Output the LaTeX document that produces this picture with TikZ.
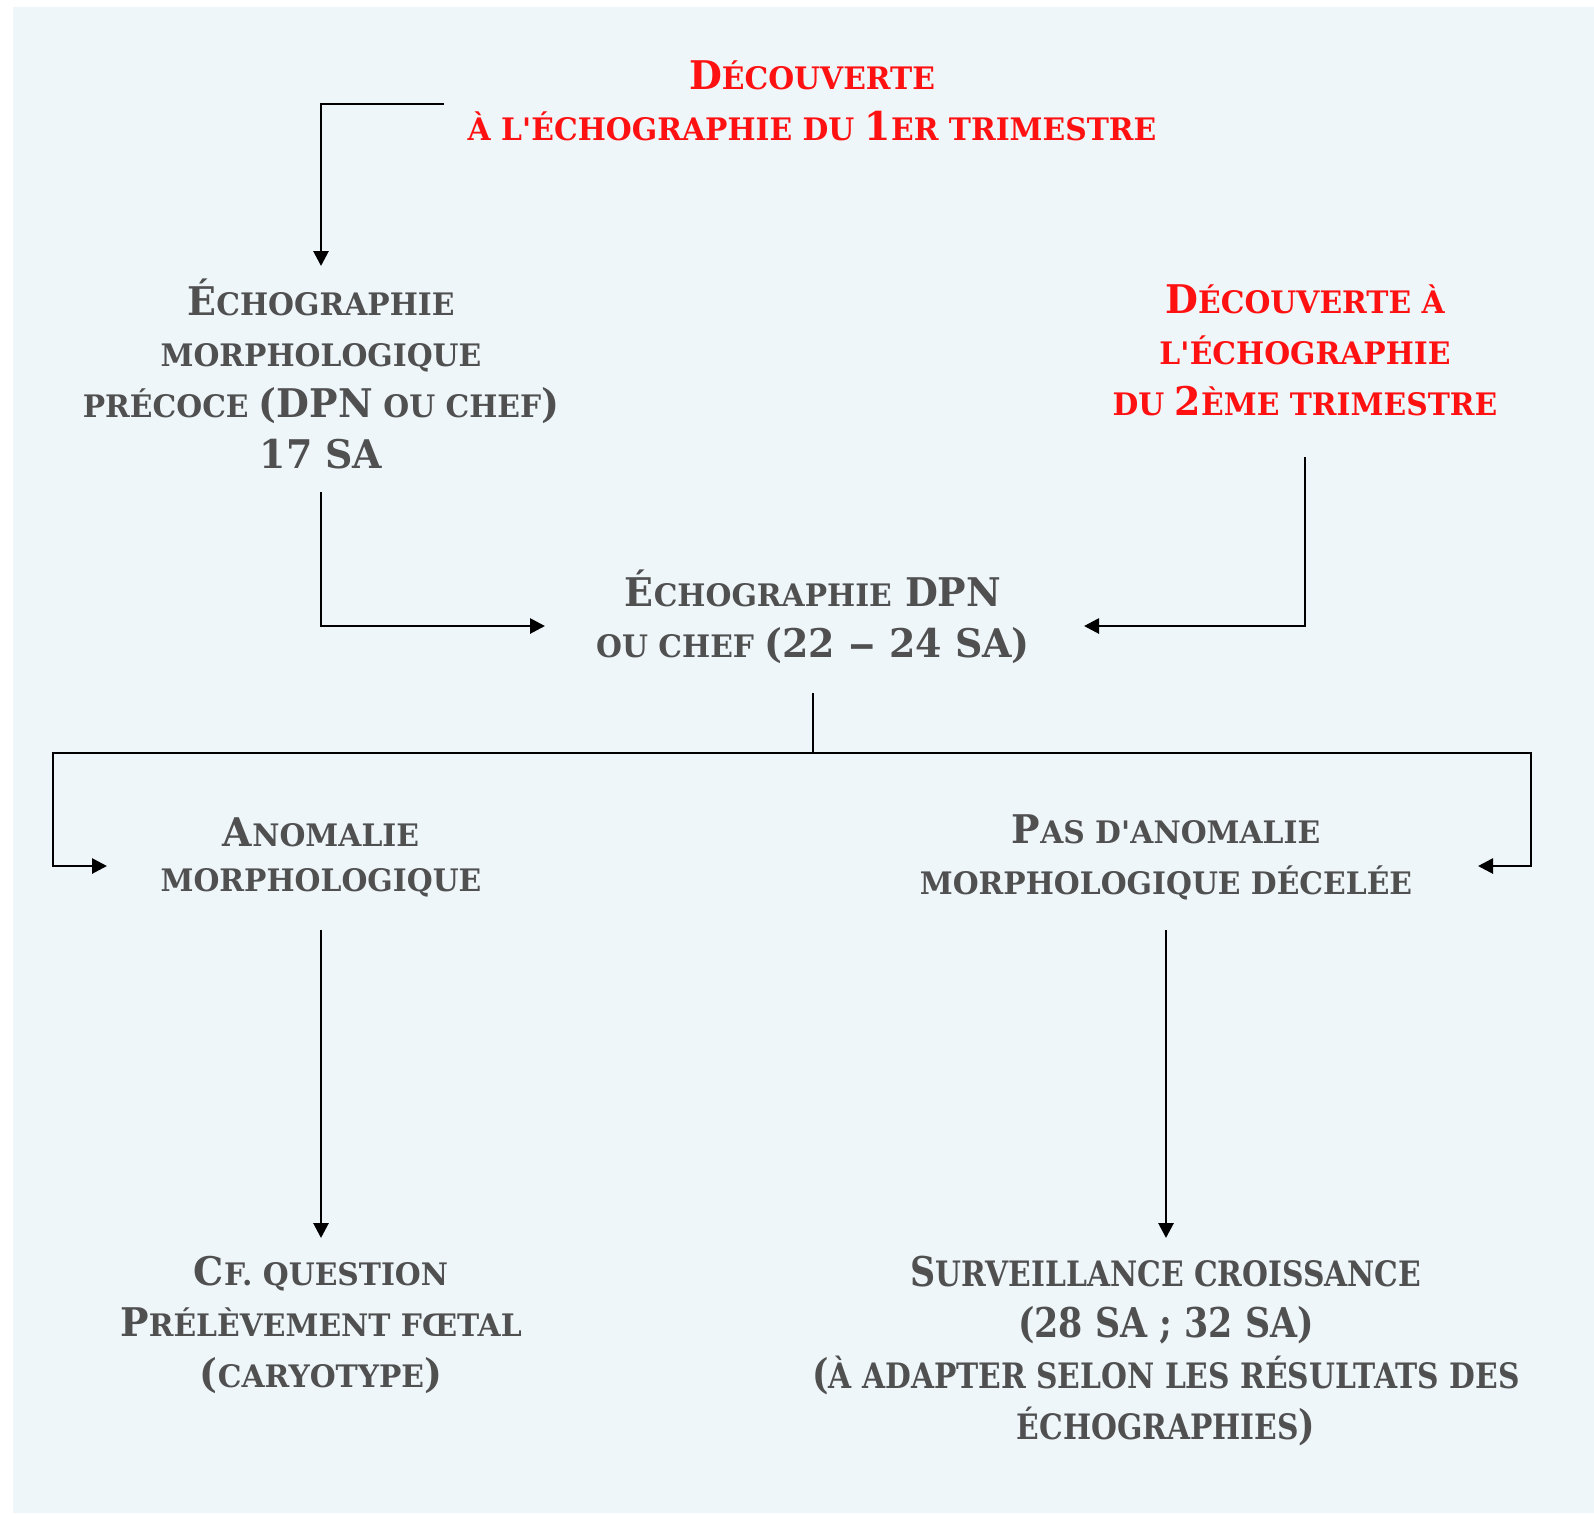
\documentclass[tikz,border=0pt]{standalone}
\usepackage{fontspec}
\usepackage{graphicx}
\setmainfont{DejaVu Serif}[BoldFont=* Bold, FakeStretch=0.96]
\newfontfamily\condfont{DejaVu Serif}[FakeStretch=0.85, BoldFont=* Bold]
\usetikzlibrary{arrows.meta,calc}
\definecolor{bgc}{HTML}{EEF6FA}
\definecolor{txt}{HTML}{505050}
\definecolor{redc}{HTML}{FF1111}
\newcommand\myS[1]{{\fontsize{31}{\baselineskip}\selectfont #1}}
\newcommand\myC[1]{{\fontsize{35}{\baselineskip}\selectfont #1}}
\tikzset{
  lbl/.style={align=center, inner sep=0pt, text=txt, font=\fontsize{39.5}{51}\selectfont\bfseries},
  redlbl/.style={lbl, text=redc},
  ln/.style={line width=2.8pt, draw=black},
  arr/.style={-{Triangle[length=15pt,width=15pt]}}
}
\begin{document}
\begin{tikzpicture}[x=1pt,y=-1pt]
\useasboundingbox (0,0) rectangle (1594,1513);
\fill[bgc] (13,7) rectangle (1594,1513);

\node[redlbl] (top) at (812,101) {D\myS{ÉCOUVERTE}\\\myS{À L\textquotesingle ÉCHOGRAPHIE DU }1\myS{ER TRIMESTRE}};
\node[lbl] (left) at (321,374) {É\myS{CHOGRAPHIE}\\\myS{MORPHOLOGIQUE}\\\myS{PRÉCOCE }(DPN\myS{ OU CHEF})\\17 SA};
\node[redlbl] (right) at (1305,350) {D\myS{ÉCOUVERTE À}\\\myS{L\textquotesingle ÉCHOGRAPHIE}\\\myS{DU }2\myS{ÈME TRIMESTRE}};
\node[lbl] (mid) at (813,617) {É\myS{CHOGRAPHIE} DPN\\\myS{OU CHEF }(22 \scalebox{1.45}[1]{–} 24 SA)};
\node[lbl, font=\fontsize{39.5}{45}\selectfont\bfseries] (anom) at (321,857) {A\myS{NOMALIE}\\\myS{MORPHOLOGIQUE}};
\node[lbl] (pas) at (1166,857) {P\myS{AS D\textquotesingle ANOMALIE}\\\myS{MORPHOLOGIQUE DÉCELÉE}};
\node[lbl] (cf) at (321,1325) {C\myS{F. QUESTION}\\P\myS{RÉLÈVEMENT FŒTAL}\\(\myS{CARYOTYPE})};
\node[lbl, font=\condfont\fontsize{41}{51}\selectfont\bfseries] (surv) at (1166,1351) {S\myC{URVEILLANCE CROISSANCE}\\(28 SA ; 32 SA)\\(\myC{À ADAPTER SELON LES RÉSULTATS DES}\\\myC{ÉCHOGRAPHIES})};

\draw[ln,arr] ($(top.center)+(-368,3)$) -| ($(left.center)+(0,-108)$);
\draw[ln,arr] ($(left.center)+(0,118)$) |- ($(mid.center)+(-268,9)$);
\draw[ln,arr] ($(right.center)+(0,107)$) |- ($(mid.center)+(271,9)$);
\coordinate (split) at ($(mid.center)+(0,136)$);
\draw[ln] ($(mid.center)+(0,76)$) -- (split);
\draw[ln,arr] (split) -| ($(anom.center)+(-268,9)$) -- ($(anom.center)+(-214,9)$);
\draw[ln,arr] (split) -| ($(pas.center)+(365,9)$) -- ($(pas.center)+(312,9)$);
\draw[ln,arr] ($(anom.center)+(0,73)$) -- ($(cf.center)+(0,-87)$);
\draw[ln,arr] ($(pas.center)+(0,73)$) -- ($(surv.center)+(0,-113)$);
\end{tikzpicture}
\end{document}
